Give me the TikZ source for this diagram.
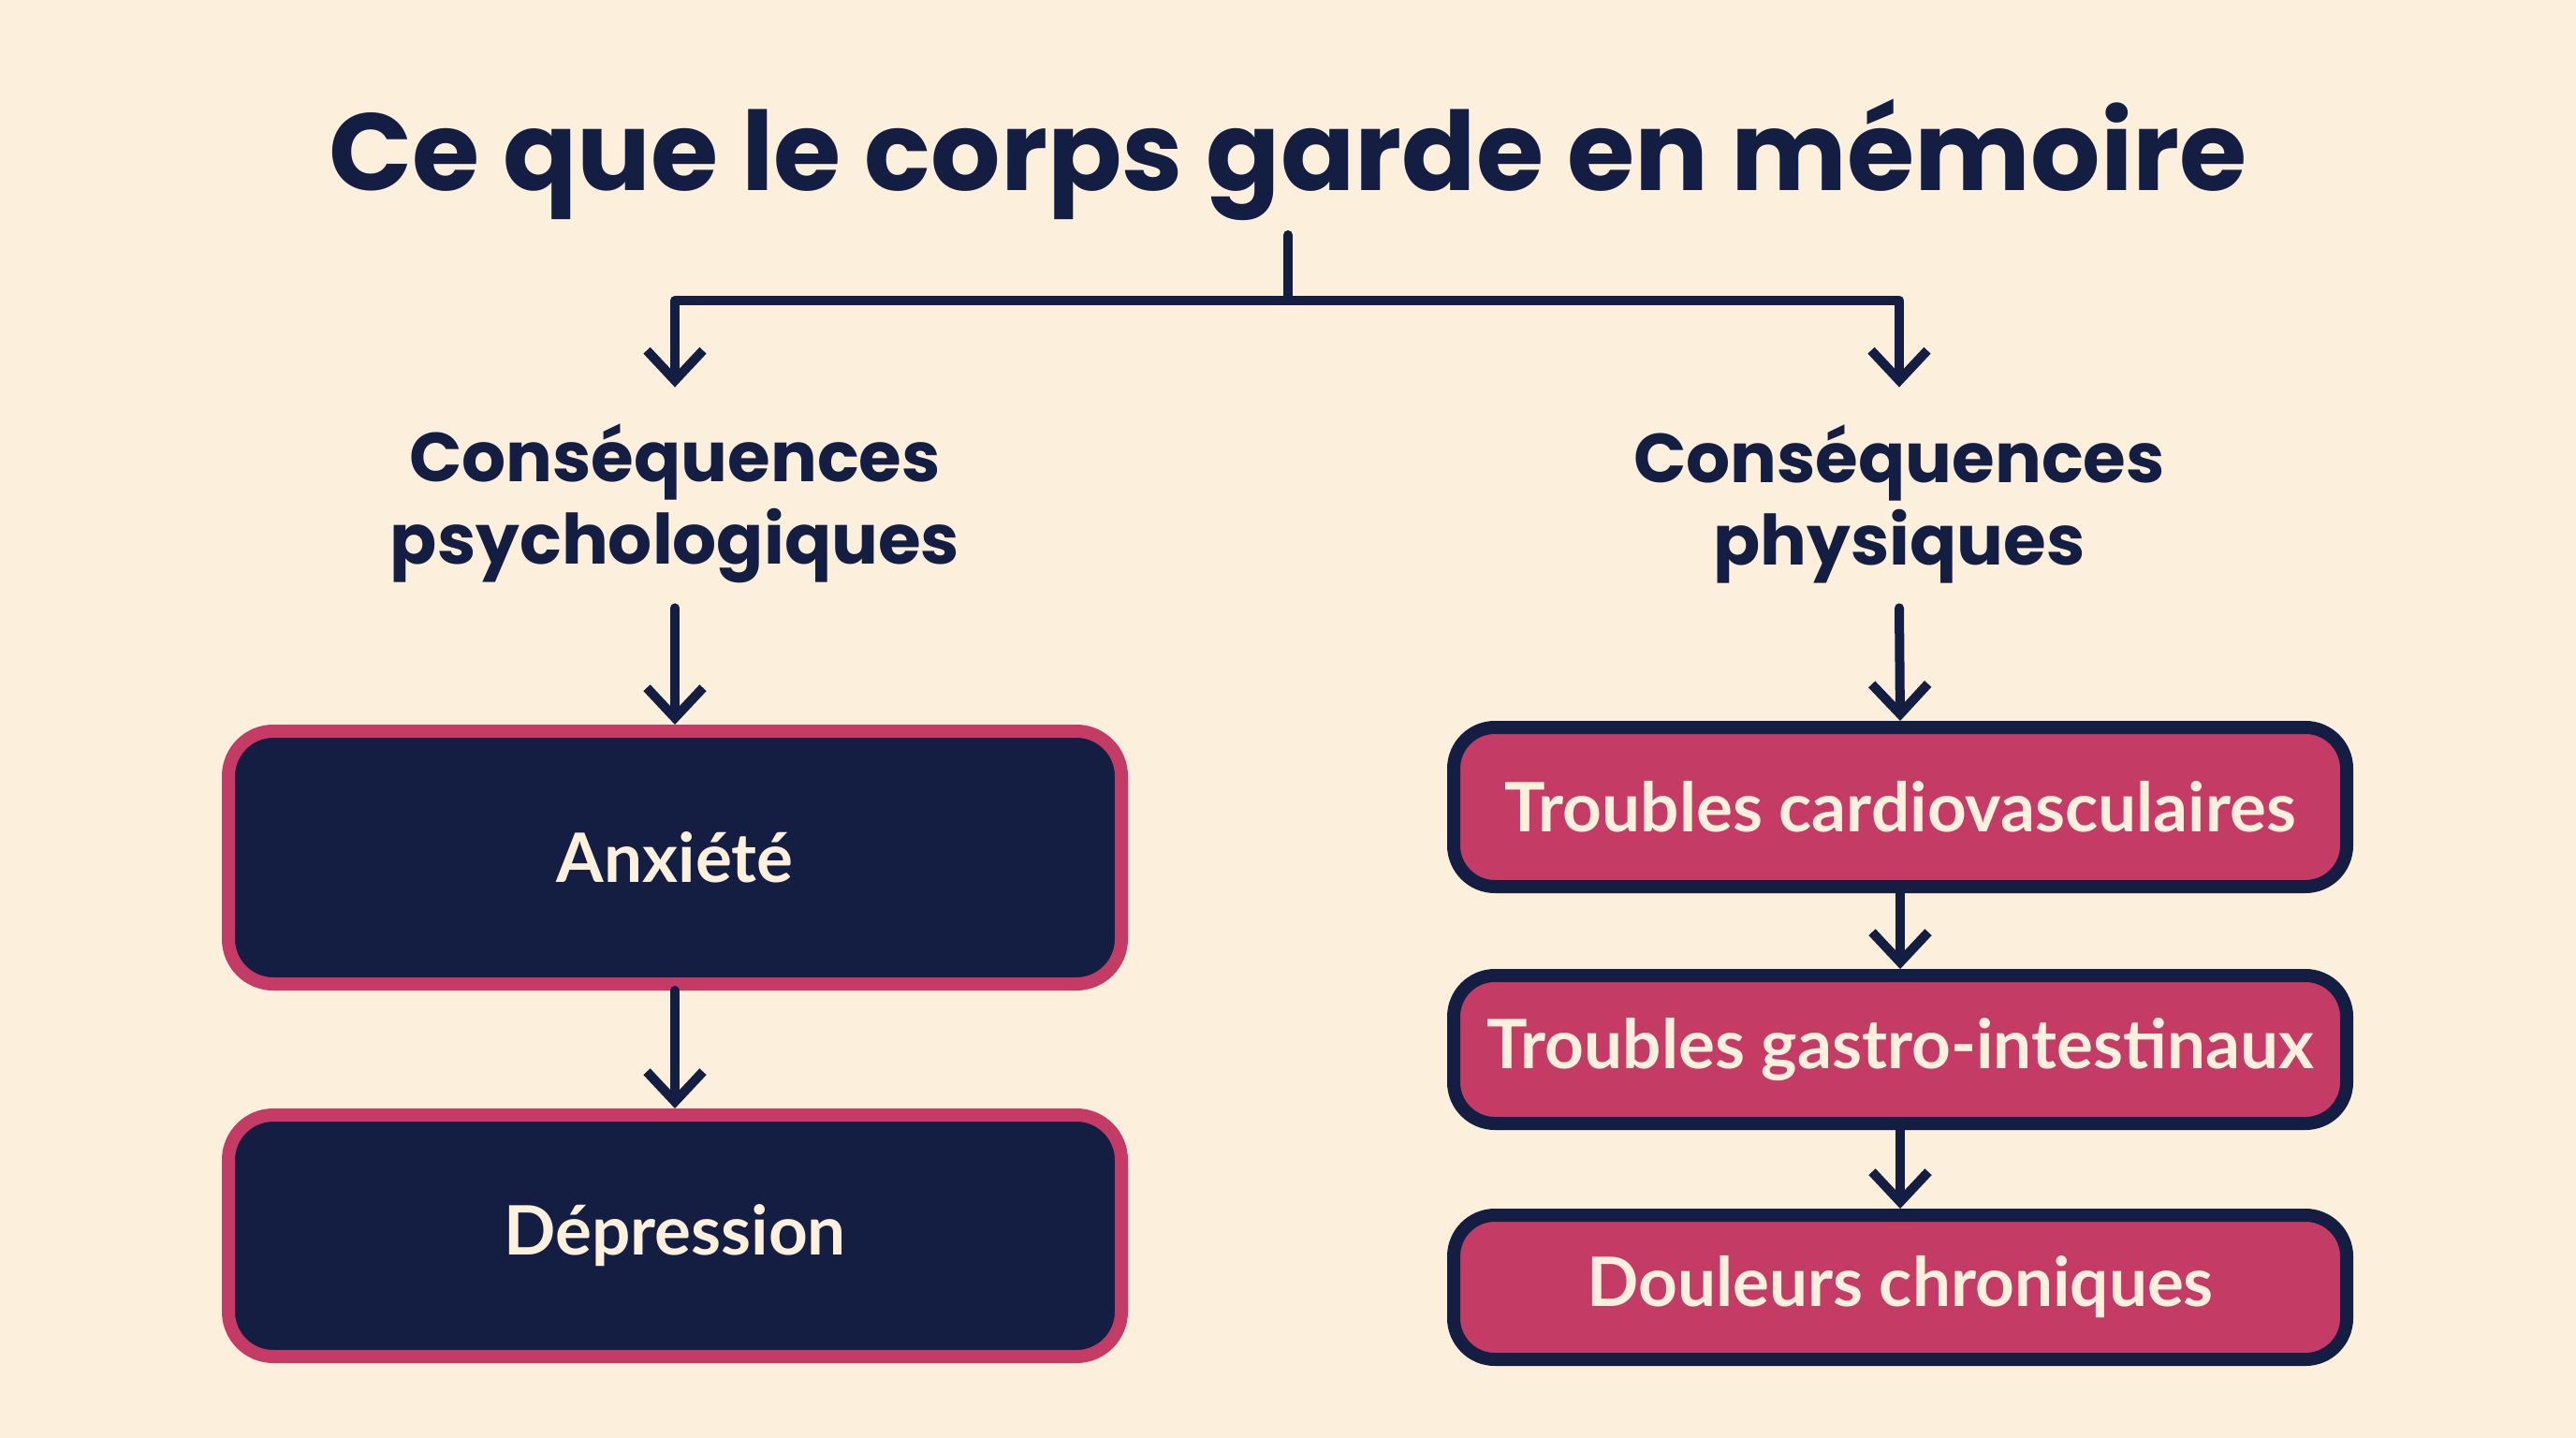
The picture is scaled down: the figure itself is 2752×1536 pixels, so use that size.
\documentclass[tikz,border=0pt]{standalone}
\usepackage{fontspec}
\setmainfont{Lato}
\newfontfamily\popb{Poppins}[UprightFont=* Bold]
\usetikzlibrary{arrows.meta}
\definecolor{bgc}{HTML}{FCEFDC}
\definecolor{navy}{HTML}{131E42}
\definecolor{rose}{HTML}{C43C66}
\definecolor{creme}{HTML}{FDF0DC}
\begin{document}
\begin{tikzpicture}[x=0.5pt,y=-0.5pt,
  conn/.style={draw=navy,line width=5pt,line cap=round,line join=round},
  arr/.style={conn,-{Straight Barb[length=16pt,width=30pt,line width=5pt]}},
  darkbox/.style={draw=rose,fill=navy,line width=7pt,rounded corners=24pt,minimum width=477pt,inner sep=0pt,text=creme,font=\fontsize{36.4}{44}\selectfont\bfseries},
  rosebox/.style={draw=navy,fill=rose,line width=7pt,rounded corners=22pt,minimum width=477pt,inner sep=0pt,text=creme,font=\fontsize{36.4}{44}\selectfont\bfseries},
  heading/.style={text=navy,align=center,inner sep=0pt,minimum height=111pt,font=\popb\fontsize{37}{44}\selectfont},
]
\fill[bgc] (0,0) rectangle (2752,1536);
\useasboundingbox (0,0) rectangle (2752,1536);

\node[text=navy,anchor=base,inner sep=0pt,font=\popb\fontsize{58.5}{70}\selectfont] (title) at (1376,203) {Ce que le corps garde en mémoire};
\coordinate (t0) at (1376,251);
\coordinate (j) at (1376,321);

\node[heading] (hl) at (721,538) {Conséquences\\psychologiques};
\node[heading] (hr) at (2029,538) {Conséquences\\physiques};

\node[darkbox,minimum height=135pt] (anx) at (721,916) {Anxiété};
\node[darkbox,minimum height=129pt] (dep) at (721,1320) {Dépression};

\node[rosebox,minimum height=85pt] (card) at (2030,862) {Troubles cardiovasculaires};
\node[rosebox,minimum height=79pt] (gast) at (2030,1121) {Troubles gastro-intestinaux};
\node[rosebox,minimum height=77pt] (doul) at (2030,1375) {Douleurs chroniques};

\draw[conn] (t0) -- (j);
\draw[arr,shorten >=6.5pt] (j) -| (hl.north);
\draw[arr,shorten >=6.5pt] (j) -| (hr.north);
\draw[arr] (hl.south) -- (anx.north);
\draw[arr] (hr.south) -- (card.north);
\draw[arr] (anx.south) -- (dep.north);
\draw[arr] (card.south) -- (gast.north);
\draw[arr] (gast.south) -- (doul.north);
\end{tikzpicture}
\end{document}
